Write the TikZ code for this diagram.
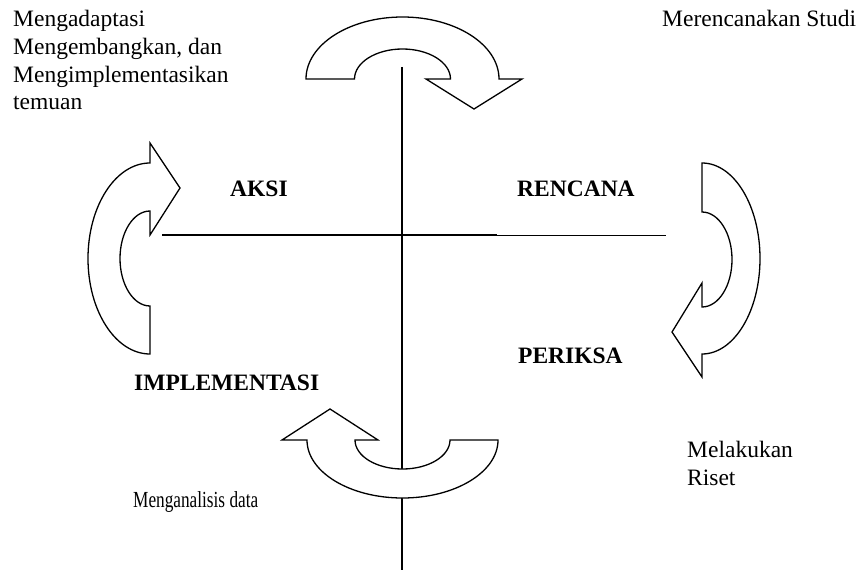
\documentclass[tikz,border=0pt]{standalone}
\usepackage{fontspec}
\setmainfont{Liberation Serif}
\usetikzlibrary{positioning}

\tikzset{
  turnarrow/.style={draw=black, fill=white, line width=1.3pt, line join=miter},
  axisline/.style={draw=black, line width=1.3pt},
  thinaxis/.style={draw=black, line width=0.8pt},
  phase/.style={font=\fontsize{23.5}{27.7}\selectfont\bfseries, anchor=base west, inner sep=0pt},
  note/.style={font=\fontsize{23.5}{27.7}\selectfont, anchor=base west, align=left, inner sep=0pt},
}

\begin{document}
\begin{tikzpicture}[x=1pt, y=-1pt]
  \useasboundingbox (0,0) rectangle (861,572);

  % Axes
  \coordinate (vtop) at (402,67);
  \coordinate (vbot) at (402,570);
  \coordinate (hleft) at (162,235);
  \coordinate (hmid) at (497,235);
  \coordinate (hright) at (666,235);
  \draw[axisline] (vtop) -- (vbot);
  \draw[axisline] (hleft) -- (hmid);
  \draw[thinaxis] (hmid) -- (hright);

  % Top arrow (turning right)
  \path[turnarrow] (306,79) arc[start angle=180, end angle=0, x radius=96.5pt, y radius=62pt]
    -- (522,79) -- (474,109) -- (426,79) -- (450.5,79)
    arc[start angle=0, end angle=180, x radius=48pt, y radius=30pt] -- cycle;

  % Right arrow (turning down)
  \path[turnarrow] (702,163) arc[start angle=90, end angle=-90, x radius=58pt, y radius=95.5pt]
    -- (702,377) -- (672,332) -- (702,283) -- (702,307)
    arc[start angle=-90, end angle=90, x radius=30pt, y radius=47.5pt] -- cycle;

  % Bottom arrow (turning left)
  \path[turnarrow] (307,440) arc[start angle=180, end angle=360, x radius=95.5pt, y radius=58pt]
    -- (450,440) arc[start angle=0, end angle=-180, x radius=47.5pt, y radius=29pt]
    -- (378,440) -- (330,409) -- (282,440) -- cycle;

  % Left arrow (turning up)
  \path[turnarrow] (150,211) -- (150,235) -- (180,188) -- (150,143) -- (150,163)
    arc[start angle=90, end angle=270, x radius=62pt, y radius=95.5pt]
    -- (150,306) arc[start angle=270, end angle=90, x radius=30pt, y radius=47.5pt] -- cycle;

  % Phase names
  \node[phase] (aksi) at (230,196) {AKSI};
  \node[phase] (rencana) at (517,196) {RENCANA};
  \node[phase] (periksa) at (518,363) {PERIKSA};
  \node[phase] (implementasi) at (134,390) {IMPLEMENTASI};

  % Notes (base = last line)
  \node[note] (adaptasi) at (13,110)
    {Mengadaptasi\\Mengembangkan, dan\\Mengimplementasikan\\temuan};
  \node[note] (studi) at (662,27) {Merencanakan Studi};
  \node[note] (riset) at (687,485) {Melakukan\\Riset};
  \node[note, font=\fontsize{23}{27}\selectfont\addfontfeature{FakeStretch=0.75}]
    (analisis) at (133,507) {Menganalisis data};
\end{tikzpicture}
\end{document}
